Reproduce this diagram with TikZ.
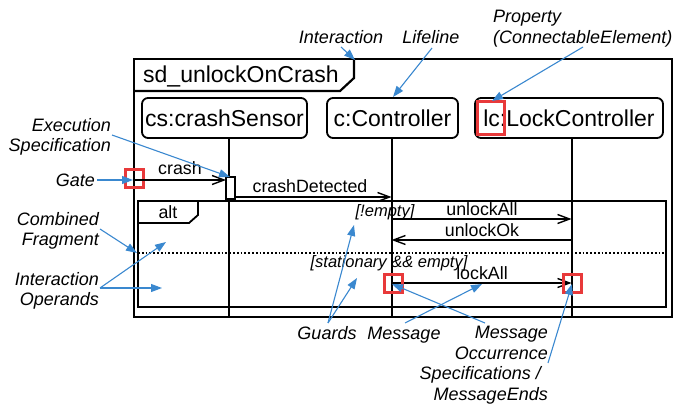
\documentclass[tikz,border=0pt]{standalone}
\usepackage{fontspec}
\setmainfont{Liberation Sans}
\usetikzlibrary{arrows.meta}
\definecolor{annot}{HTML}{3A88CF}
\definecolor{redmark}{HTML}{E8393A}
\begin{document}
\begin{tikzpicture}[x=1pt,y=-1pt,
  every node/.style={inner sep=0pt},
  frameline/.style={line width=2.2pt},
  headbox/.style={draw,line width=1.8pt,rounded corners=6pt,minimum height=40pt,
    font=\fontsize{23}{27}\selectfont},
  lifeline/.style={line width=2pt},
  msg/.style={line width=2pt,-{Straight Barb[length=12pt,width=9pt,line width=1.4pt]}},
  msglabel/.style={font=\fontsize{17.8}{20}\selectfont, anchor=base},
  guard/.style={font=\fontsize{16.5}{19}\selectfont\itshape, anchor=base},
  note/.style={font=\fontsize{18}{20.5}\selectfont\itshape},
  pointer/.style={draw=annot, line width=1.1pt, -{Triangle[length=11pt,width=8pt]}},
  hilite/.style={draw=redmark, line width=3pt, minimum size=18pt},
]
\useasboundingbox (0,0) rectangle (673,404);

% sequence diagram frame with its name tab
\draw[frameline] (134,59) rectangle (672,317);
\draw[frameline] (134,91) -- (340,91) -- (354,78) -- (354,59);
\node[anchor=base west, font=\fontsize{23}{27}\selectfont] (title) at (143,83) {sd\_unlockOnCrash};

% alt combined fragment with two operands
\draw[frameline] (138,201) rectangle (666,307);
\draw[line width=1.8pt] (138,223) -- (189,223) -- (198,215) -- (198,201);
\node[font=\fontsize{17.8}{20}\selectfont] (alt) at (168,212) {alt};
\draw[line width=1.8pt, dotted] (138,253) -- (666,253);
\node[guard] (g1) at (385,216) {[!empty]};
\node[guard] (g2) at (389,267) {[stationary \&\& empty]};

% lifeline heads
\node[headbox, minimum width=165pt] (cs) at (224.5,118) {cs:crashSensor};
\node[headbox, minimum width=131pt] (c)  at (392.5,118) {c:Controller};
\node[headbox, minimum width=188pt] (lc) at (569,118) {lc:LockController};

% lifelines
\coordinate (csEnd) at (228.5,317);
\coordinate (cEnd)  at (391.5,317);
\coordinate (lcEnd) at (571.5,317);
\draw[lifeline] (cs.south -| csEnd) -- (csEnd);
\draw[lifeline] (c.south -| cEnd) -- (cEnd);
\draw[lifeline] (lc.south -| lcEnd) -- (lcEnd);

% execution specification on the sensor
\node[draw, fill=white, line width=1.1pt, minimum width=9pt, minimum height=22pt] (exec) at (230.5,188) {};

% gate on the frame border
\node[hilite] (gate) at (134,178) {};

% message ends
\coordinate (crashSrc) at (134,180);
\coordinate (crashDst) at (226,180);
\coordinate (cdSrc) at (235,197);
\coordinate (cdDst) at (391.5,197);
\coordinate (uaSrc) at (391.5,219);
\coordinate (uaDst) at (571.5,219);
\coordinate (uoSrc) at (571.5,240);
\coordinate (uoDst) at (391.5,240);
\coordinate (laSrc) at (391.5,283);
\coordinate (laDst) at (571.5,283);

% messages
\draw[msg] (crashSrc) -- (crashDst);
\node[msglabel] (crashL) at (180,175) {crash};
\draw[msg] (cdSrc) -- (cdDst);
\node[msglabel] (cdL) at (310,193) {crashDetected};
\draw[msg] (uaSrc) -- (uaDst);
\node[msglabel] (uaL) at (482,215) {unlockAll};
\draw[msg] (uoSrc) -- (uoDst);
\node[msglabel] (uoL) at (482,236) {unlockOk};
\draw[msg] (laSrc) -- (laDst);
\node[msglabel] (laL) at (482,279.5) {lockAll};

% highlighted elements
\node[hilite, minimum width=27pt, minimum height=33pt] (lcProp) at (490.5,118.5) {};
\node[hilite] (occL) at (393,283) {};
\node[hilite] (occR) at (572,283) {};

% annotations
\node[note] (nInter) at (341,37) {Interaction};
\node[note] (nLife) at (431,37) {Lifeline};
\node[note, anchor=north west, align=left] (nProp) at (493,10) {Property\\(ConnectableElement)};
\node[note, anchor=north east, align=right] (nExec) at (111,118) {Execution\\Specification};
\node[note, anchor=base east] (nGate) at (95,186) {Gate};
\node[note, anchor=north east, align=right] (nComb) at (99,212) {Combined\\Fragment};
\node[note, anchor=north east, align=right] (nOper) at (99,272) {Interaction\\Operands};
\node[note, anchor=base] (nGuard) at (327,339) {Guards};
\node[note, anchor=base] (nMsg) at (404,339) {Message};
\node[note, anchor=north east, align=right] (nOcc) at (548,326)
  {Message\\Occurrence\\Specifications /\rule{7pt}{0pt}\\MessageEnds};

% annotation pointers
\coordinate (pInterS) at (341,47);   \coordinate (pInterT) at (355,60);
\coordinate (pLifeS) at (432,48);    \coordinate (pLifeT) at (393,97);
\coordinate (pPropS) at (583,47);    \coordinate (pPropT) at (492,101);
\coordinate (pExecS) at (112,135);   \coordinate (pExecT) at (230,177);
\coordinate (pGateS) at (97,180);    \coordinate (pGateT) at (133,180);
\coordinate (pCombS) at (100,229);   \coordinate (pCombT) at (137,253);
\coordinate (pOperS) at (100,288);
\coordinate (pOperT1) at (166,242);  \coordinate (pOperT2) at (162,288);
\coordinate (pGuardS) at (328,323);
\coordinate (pGuardT1) at (354,225); \coordinate (pGuardT2) at (357,278);
\coordinate (pMsgS) at (405,323);    \coordinate (pMsgT) at (482,284);
\coordinate (pOccS1) at (485,323);   \coordinate (pOccT1) at (392,284);
\coordinate (pOccS2) at (548,363);   \coordinate (pOccT2) at (572,284);

\draw[pointer] (pInterS) -- (pInterT);
\draw[pointer] (pLifeS) -- (pLifeT);
\draw[pointer] (pPropS) -- (pPropT);
\draw[pointer] (pExecS) -- (pExecT);
\draw[pointer] (pGateS) -- (pGateT);
\draw[pointer] (pCombS) -- (pCombT);
\draw[pointer] (pOperS) -- (pOperT1);
\draw[pointer] (pOperS) -- (pOperT2);
\draw[pointer] (pGuardS) -- (pGuardT1);
\draw[pointer] (pGuardS) -- (pGuardT2);
\draw[pointer] (pMsgS) -- (pMsgT);
\draw[pointer] (pOccS1) -- (pOccT1);
\draw[pointer] (pOccS2) -- (pOccT2);
\end{tikzpicture}
\end{document}
